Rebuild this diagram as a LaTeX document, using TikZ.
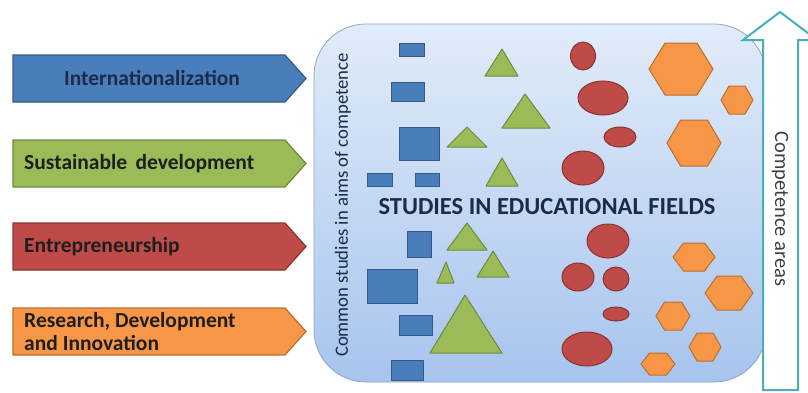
\documentclass[tikz,border=0pt]{standalone}
\usepackage{fontspec}
\setmainfont{Carlito}
\usepackage{tikz}
\usepackage{xcolor}
\usetikzlibrary{shapes, positioning, calc}

\definecolor{blueF}{HTML}{4A7EBB}
\definecolor{blueD}{HTML}{37598A}
\definecolor{greenF}{HTML}{9BBB59}
\definecolor{greenD}{HTML}{6F8A3C}
\definecolor{redF}{HTML}{BE4B48}
\definecolor{redD}{HTML}{8A3432}
\definecolor{orangeF}{HTML}{F79646}
\definecolor{orangeD}{HTML}{B8702F}
\definecolor{boxTop}{HTML}{E2ECF9}
\definecolor{boxBot}{HTML}{A7C4EE}
\definecolor{boxLine}{HTML}{8FA7C8}
\definecolor{tealLine}{HTML}{45B0B6}
\definecolor{navyText}{HTML}{1B2B4A}
\definecolor{darkText}{HTML}{1E1E1E}

\tikzset{
    bluearrow/.style={fill=blueF, draw=blueD, line width=1.2pt},
    greenarrow/.style={fill=greenF, draw=greenD, line width=1.2pt},
    redarrow/.style={fill=redF, draw=redD, line width=1.2pt},
    orangearrow/.style={fill=orangeF, draw=orangeD, line width=1.2pt},
    bluerect/.style={fill=blueF, draw=blueD, line width=1pt},
    greentri/.style={fill=greenF, draw=greenD, line width=1pt, line join=round},
    redoval/.style={fill=redF, draw=redD, line width=1pt},
    orangehex/.style={fill=orangeF, draw=orangeD, line width=1pt, line join=round},
    arrowtext/.style={font=\fontsize{21.5}{23}\selectfont\bfseries, text=darkText, inner sep=0pt},
}

\begin{document}
\begin{tikzpicture}[x=1pt, y=-1pt]
        \useasboundingbox (0,0) rectangle (808,392);

        % main field box
        \shade[top color=boxTop, bottom color=boxBot, rounded corners=52] (314,24) rectangle (766,382);
        \draw[boxLine, line width=0.8pt, rounded corners=52] (314,24) rectangle (766,382);

        % competence aims on the left
        \draw[bluearrow] (13,55) -- (285,55) -- (306,78.5) -- (285,102) -- (13,102) -- cycle;
        \draw[greenarrow] (13,140) -- (285,140) -- (306,163.5) -- (285,187) -- (13,187) -- cycle;
        \draw[redarrow] (13,223) -- (285,223) -- (306,246.5) -- (285,270) -- (13,270) -- cycle;
        \draw[orangearrow] (13,308) -- (285,308) -- (306,331.5) -- (285,355) -- (13,355) -- cycle;

        \node[arrowtext, text=navyText] (intl) at (152,78.5) {Internationalization};
        \node[arrowtext, anchor=west] (sust) at (24,163.5) {Sustainable\, development};
        \node[arrowtext, anchor=west] (entr) at (24,246.5) {Entrepreneurship};
        \node[arrowtext, anchor=west, align=left] (rdi) at (24,331.5) {Research, Development\\and Innovation};

        % blue rectangles
        \draw[bluerect] (399,43) rectangle (424,56);
        \draw[bluerect] (391,82) rectangle (424,101);
        \draw[bluerect] (399,127) rectangle (439,160);
        \draw[bluerect] (367,173) rectangle (392,186);
        \draw[bluerect] (415,173) rectangle (439,186);
        \draw[bluerect] (407,231) rectangle (431,257);
        \draw[bluerect] (367,269) rectangle (417,303);
        \draw[bluerect] (399,315) rectangle (432,335);
        \draw[bluerect] (391,360) rectangle (423,380);

        % green triangles
        \draw[greentri] (485,76) -- (502,49) -- (518,76) -- cycle;
        \draw[greentri] (502,128) -- (525,94) -- (550,128) -- cycle;
        \draw[greentri] (447,147) -- (467,127) -- (487,147) -- cycle;
        \draw[greentri] (486,186) -- (502,158) -- (518,186) -- cycle;
        \draw[greentri] (447,250) -- (467,223) -- (487,250) -- cycle;
        \draw[greentri] (437,283) -- (446,262) -- (454,283) -- cycle;
        \draw[greentri] (477,277) -- (493,251) -- (509,277) -- cycle;
        \draw[greentri] (430,353) -- (465,295) -- (502,353) -- cycle;

        % red ovals
        \draw[redoval] (583,56) ellipse [x radius=12.5, y radius=14];
        \draw[redoval] (603,98) ellipse [x radius=25, y radius=17];
        \draw[redoval] (620,137) ellipse [x radius=16, y radius=10];
        \draw[redoval] (583,168) ellipse [x radius=21, y radius=17];
        \draw[redoval] (608,241) ellipse [x radius=21, y radius=17];
        \draw[redoval] (578,277) ellipse [x radius=16, y radius=14];
        \draw[redoval] (616,279) ellipse [x radius=13, y radius=12];
        \draw[redoval] (616,314) ellipse [x radius=13, y radius=7];
        \draw[redoval] (587,349) ellipse [x radius=25, y radius=17];

        % orange hexagons
        \draw[orangehex] (649,69) -- ++(16,-26) -- ++(32,0) -- ++(16,26) -- ++(-16,26) -- ++(-32,0) -- cycle;
        \draw[orangehex] (721,100) -- ++(8,-14) -- ++(16,0) -- ++(8,14) -- ++(-8,14) -- ++(-16,0) -- cycle;
        \draw[orangehex] (667,143) -- ++(13.5,-23) -- ++(27,0) -- ++(13.5,23) -- ++(-13.5,23) -- ++(-27,0) -- cycle;
        \draw[orangehex] (673,257) -- ++(10.5,-14) -- ++(21,0) -- ++(10.5,14) -- ++(-10.5,14) -- ++(-21,0) -- cycle;
        \draw[orangehex] (705,293) -- ++(12,-17) -- ++(24,0) -- ++(12,17) -- ++(-12,17) -- ++(-24,0) -- cycle;
        \draw[orangehex] (656,316) -- ++(8.5,-14) -- ++(17,0) -- ++(8.5,14) -- ++(-8.5,14) -- ++(-17,0) -- cycle;
        \draw[orangehex] (689,347) -- ++(8,-14) -- ++(16,0) -- ++(8,14) -- ++(-8,14) -- ++(-16,0) -- cycle;
        \draw[orangehex] (641,364) -- ++(8.5,-11) -- ++(17,0) -- ++(8.5,11) -- ++(-8.5,11) -- ++(-17,0) -- cycle;

        % box labels
        \node[font=\fontsize{18.7}{23}\selectfont, text=navyText, rotate=90] (common) at (343,205) {Common studies in aims of competence};
        \node[font=\fontsize{24.5}{27}\selectfont\bfseries, text=navyText] (fields) at (547,207) {STUDIES IN EDUCATIONAL FIELDS};

        % competence areas arrow
        \draw[tealLine, fill=white, line width=2pt, line join=miter] (763,390) -- (763,40) -- (743,40) -- (780,12) -- (817,40) -- (798,40) -- (798,390) -- cycle;
        \node[font=\fontsize{20.5}{23}\selectfont, text=darkText!85, rotate=-90] (areas) at (780,209) {Competence areas};
    \end{tikzpicture}
\end{document}
